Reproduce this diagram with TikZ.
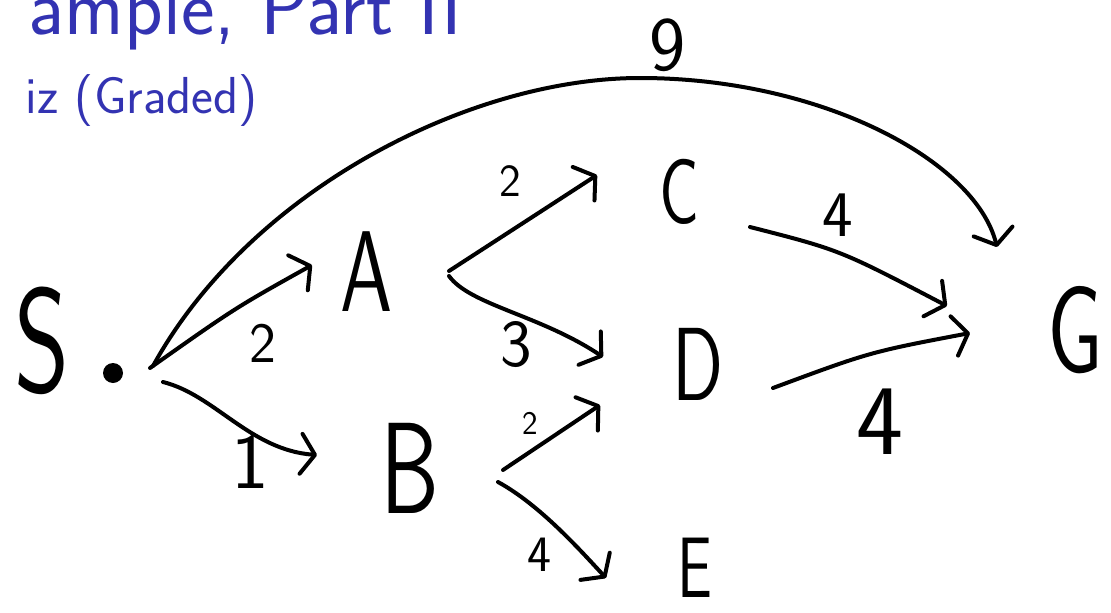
\documentclass[tikz,border=0pt]{standalone}
\usepackage{fontspec}
\usetikzlibrary{arrows.meta,calc}
\newfontfamily\handfont{lmsans10-regular.otf}[FakeStretch=0.68]
\definecolor{titleblue}{rgb}{0.2,0.2,0.7}
\tikzset{
  hand/.style={font=\handfont\fontsize{#1}{#1}\selectfont, inner sep=0pt, anchor=center, text=black},
  digit/.style={font=\sffamily\fontsize{#1}{#1}\selectfont, inner sep=0pt, anchor=center, text=black},
  edge/.style={draw=black, line width=4pt, line cap=round, line join=round,
    -{Straight Barb[round,length=14pt,width=40pt]}},
  titletext/.style={font=\sffamily\fontsize{80}{80}\selectfont, text=titleblue, inner sep=0pt, anchor=base east},
  subtext/.style={font=\sffamily\fontsize{52}{52}\selectfont, text=titleblue, inner sep=0pt, anchor=base east},
  blob/.style={circle, fill=black, minimum size=20pt, inner sep=0pt}
}
\begin{document}
\begin{tikzpicture}[x=1pt,y=-1pt]
\clip (0,0) rectangle (1111,613);
\fill[white] (0,0) rectangle (1111,613);
% title
\node[titletext] (title) at (462,34) {ample, Part II};
\node[subtext] (subtitle) at (258,113) {iz (Graded)};
% nodes
\node[hand=146] (S) at (42,341) {S};
\node[blob] (dot) at (113,373) {};
\node[hand=115] (A) at (367,272) {A};
\node[hand=130] (B) at (410,468) {B};
\node[hand=91] (C) at (679,192) {C};
\node[hand=104] (D) at (698,364) {D};
\node[hand=86] (E) at (695,568) {E};
\node[hand=122] (G) at (1075,330) {G};
% edges
\draw[edge] ($(dot)+(37,-5)$) .. controls (235,308) .. ($(A)+(-55,-7)$);
\draw[edge] ($(dot)+(40,-7)$) .. controls (250,190) and (470,78) .. (640,78)
   .. controls (820,78) and (975,160) .. ($(G)+(-78,-83)$);
\draw[edge] ($(dot)+(50,9)$) .. controls (215,395) and (250,450) .. ($(B)+(-93,-13)$);
\draw[edge] ($(A)+(82,-1)$) .. controls (520,225) .. ($(C)+(-82,-17)$);
\draw[edge] ($(A)+(82,4)$) .. controls (470,305) and (540,315) .. ($(D)+(-95,-7)$);
\draw[edge] ($(B)+(93,2)$) -- ($(D)+(-98,41)$);
\draw[edge] ($(B)+(88,14)$) .. controls (540,505) and (580,550) .. ($(E)+(-89,10)$);
\draw[edge] ($(C)+(71,35)$) .. controls (840,250) .. ($(G)+(-128,-24)$);
\draw[edge] ($(D)+(75,24)$) .. controls (870,352) .. ($(G)+(-105,3)$);
% weights
\node[digit=57] (wSA) at (263,343) {2};
\node[digit=80] (wSB) at (250,462) {1};
\node[digit=77] (wSG) at (668,45) {9};
\node[digit=46] (wAC) at (510,181) {2};
\node[digit=67] (wAD) at (516,345) {3};
\node[digit=33] (wBD) at (530,423) {2};
\node[digit=51] (wBE) at (539,555) {4};
\node[digit=65] (wCG) at (838,215) {4};
\node[digit=100] (wDG) at (880,422) {4};
\end{tikzpicture}
\end{document}
